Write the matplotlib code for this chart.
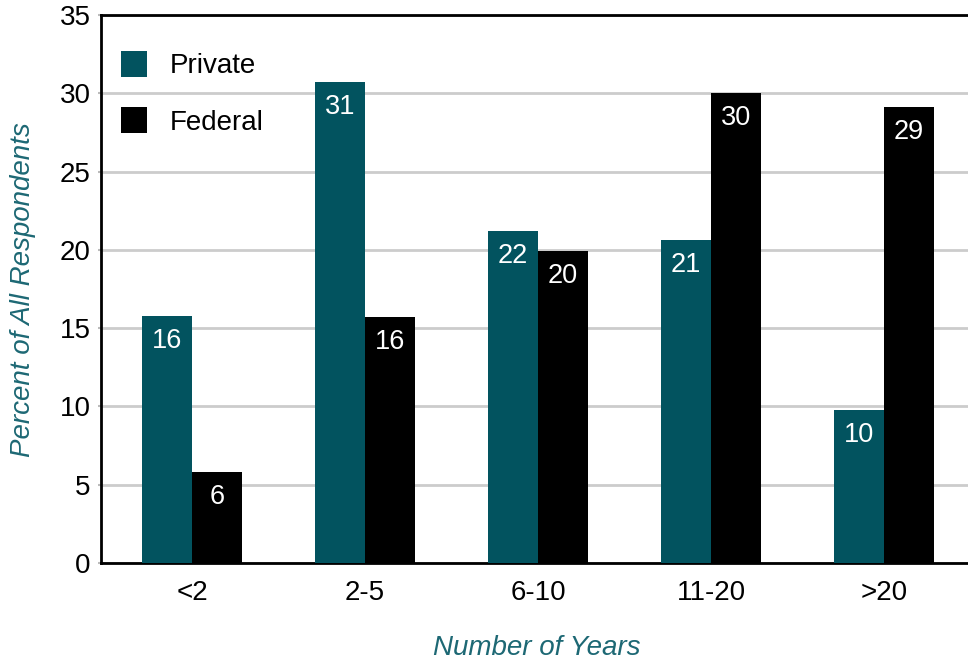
import matplotlib
matplotlib.use("Agg")
import matplotlib.pyplot as plt
import numpy as np

categories = ["<2", "2-5", "6-10", "11-20", ">20"]
private_values = [15.8, 30.7, 21.2, 20.6, 9.8]
federal_values = [5.8, 15.7, 19.9, 30.0, 29.1]
private_labels = ["16", "31", "22", "21", "10"]
federal_labels = ["6", "16", "20", "30", "29"]
series_names = ["Private", "Federal"]
y_ticks = [0, 5, 10, 15, 20, 25, 30, 35]

plt.rcParams['font.family'] = ['Liberation Sans', 'DejaVu Sans']

TEAL = "#02535F"
LABEL_TEAL = "#1D6874"

fig = plt.figure(figsize=(9.68, 6.62), dpi=100)
ax = fig.add_axes([101/968, 99/662, 874/968, 548/662])

x = np.arange(len(categories))
w = 0.289
b1 = ax.bar(x - w/2, private_values, width=w, color=TEAL, label=series_names[0], zorder=3)
b2 = ax.bar(x + w/2, federal_values, width=w, color="black", label=series_names[1], zorder=3)

for bars, labels in ((b1, private_labels), (b2, federal_labels)):
    for rect, lab in zip(bars, labels):
        ax.annotate(lab, (rect.get_x() + rect.get_width()/2, rect.get_height()),
                    xytext=(0, -22), textcoords="offset pixels", ha="center",
                    va="center_baseline", color="white", fontsize=19.5, zorder=4)

ax.set_xlim(-0.526, 4.526)
ax.set_ylim(0, 35)
ax.set_yticks(y_ticks)
ax.set_xticks(x)
ax.set_xticklabels(categories, fontsize=20)
ax.tick_params(axis='y', labelsize=20, length=2.5, color="#bbbbbb", width=1.5, pad=5)
ax.tick_params(axis='x', length=0, pad=12)
ax.yaxis.grid(True, color="#cccccc", linewidth=2, zorder=0)
ax.set_axisbelow(True)

for s in ["left", "bottom", "top"]:
    ax.spines[s].set_linewidth(2)
    ax.spines[s].set_color("black")
ax.spines["right"].set_visible(False)

ax.set_ylabel("Percent of All Respondents", fontsize=20, style="italic",
              color=LABEL_TEAL)
ax.yaxis.label.set_va("center")
ax.yaxis.set_label_coords(-(101-23)/874, (563-290)/548)
ax.set_xlabel("Number of Years", fontsize=20, style="italic", color=LABEL_TEAL)
ax.xaxis.label.set_va("center")
ax.xaxis.set_label_coords((537-101)/874, -(648-563)/548)

leg = ax.legend(loc="upper left", bbox_to_anchor=(20/874, (563-51)/548), frameon=False,
                fontsize=20, handlelength=0.94, handleheight=1.05, handletextpad=0.83,
                labelspacing=1.0, borderaxespad=0, borderpad=0)

fig.savefig("out.png", dpi=100)
